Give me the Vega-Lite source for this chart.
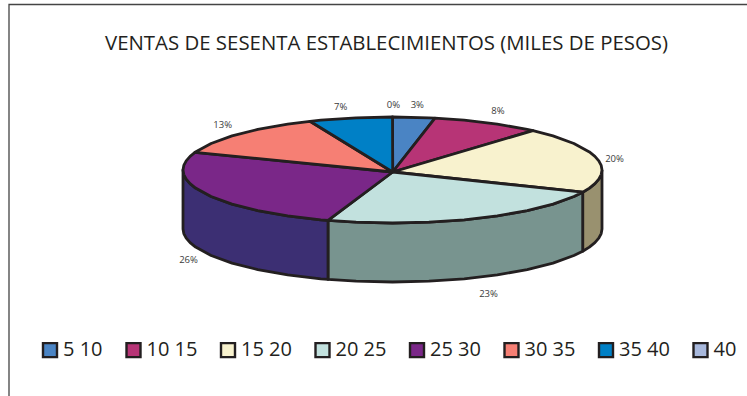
{
"$schema":"https://vega.github.io/schema/vega-lite/v6.json",
"width":747,"height":396,"padding":0,"autosize":"none","background":"white",
"title":{"text":"VENTAS DE SESENTA ESTABLECIMIENTOS (MILES DE PESOS)","font":"Open Sans","fontSize":20.4,"fontWeight":"normal","color":"#231f20","anchor":"start","frame":"group","offset":-54,"dx":105},
"datasets":{
"marco":[{"o":0,"x":-383.5,"y":-226},{"o":1,"x":-383.5,"y":165.5},{"o":2,"x":354.5,"y":165.5}],
"lados":[
{"r":"15 20","o":0,"x":209.5,"y":0},{"r":"15 20","o":0.5,"x":208.7,"y":-4.6},{"r":"15 20","o":1,"x":206.3,"y":-9.2},{"r":"15 20","o":1.5,"x":202.4,"y":-13.7},{"r":"15 20","o":2,"x":196.9,"y":-18.1},{"r":"15 20","o":3,"x":190.2,"y":-22.2},{"r":"15 20","o":4,"x":190.2,"y":-81.2},{"r":"15 20","o":5,"x":196.9,"y":-77.1},{"r":"15 20","o":5.5,"x":202.4,"y":-72.7},{"r":"15 20","o":6,"x":206.3,"y":-68.2},{"r":"15 20","o":6.5,"x":208.7,"y":-63.6},{"r":"15 20","o":7,"x":209.5,"y":-59},{"r":"15 20","o":8,"x":209.5,"y":0},
{"r":"20 25","o":0,"x":190.2,"y":-22.2},{"r":"20 25","o":1,"x":181.4,"y":-26.5},{"r":"20 25","o":2,"x":160.5,"y":-34.1},{"r":"20 25","o":3,"x":134.7,"y":-40.6},{"r":"20 25","o":4,"x":104.8,"y":-45.9},{"r":"20 25","o":5,"x":71.7,"y":-49.8},{"r":"20 25","o":6,"x":36.4,"y":-52.2},{"r":"20 25","o":7,"x":0,"y":-53},{"r":"20 25","o":8,"x":-36.4,"y":-52.2},{"r":"20 25","o":9,"x":-64.5,"y":-50.4},{"r":"20 25","o":10,"x":-64.5,"y":-109.4},{"r":"20 25","o":11,"x":-36.4,"y":-111.2},{"r":"20 25","o":12,"x":0,"y":-112},{"r":"20 25","o":13,"x":36.4,"y":-111.2},{"r":"20 25","o":14,"x":71.7,"y":-108.8},{"r":"20 25","o":15,"x":104.8,"y":-104.9},{"r":"20 25","o":16,"x":134.7,"y":-99.6},{"r":"20 25","o":17,"x":160.5,"y":-93.1},{"r":"20 25","o":18,"x":181.4,"y":-85.5},{"r":"20 25","o":19,"x":190.2,"y":-81.2},{"r":"20 25","o":20,"x":190.2,"y":-22.2},
{"r":"25 30","o":0,"x":-64.5,"y":-50.4},{"r":"25 30","o":1,"x":-71.7,"y":-49.8},{"r":"25 30","o":2,"x":-104.8,"y":-45.9},{"r":"25 30","o":3,"x":-134.7,"y":-40.6},{"r":"25 30","o":4,"x":-160.5,"y":-34.1},{"r":"25 30","o":5,"x":-181.4,"y":-26.5},{"r":"25 30","o":6,"x":-196.9,"y":-18.1},{"r":"25 30","o":6.5,"x":-202.4,"y":-13.7},{"r":"25 30","o":7,"x":-206.3,"y":-9.2},{"r":"25 30","o":7.5,"x":-208.7,"y":-4.6},{"r":"25 30","o":8,"x":-209.5,"y":0},{"r":"25 30","o":9,"x":-209.5,"y":-59},{"r":"25 30","o":9.5,"x":-208.7,"y":-63.6},{"r":"25 30","o":10,"x":-206.3,"y":-68.2},{"r":"25 30","o":10.5,"x":-202.4,"y":-72.7},{"r":"25 30","o":11,"x":-196.9,"y":-77.1},{"r":"25 30","o":12,"x":-181.4,"y":-85.5},{"r":"25 30","o":13,"x":-160.5,"y":-93.1},{"r":"25 30","o":14,"x":-134.7,"y":-99.6},{"r":"25 30","o":15,"x":-104.8,"y":-104.9},{"r":"25 30","o":16,"x":-71.7,"y":-108.8},{"r":"25 30","o":17,"x":-64.5,"y":-109.4},{"r":"25 30","o":18,"x":-64.5,"y":-50.4}
],
"cara":[
{"r":"5 10","o":0,"x":0.2,"y":-2},{"r":"5 10","o":1,"x":0,"y":53},{"r":"5 10","o":2,"x":36.4,"y":52.2},{"r":"5 10","o":3,"x":42.5,"y":51.9},{"r":"5 10","o":4,"x":0.2,"y":-2},
{"r":"10 15","o":0,"x":0.2,"y":-2},{"r":"10 15","o":1,"x":42.5,"y":51.9},{"r":"10 15","o":2,"x":71.7,"y":49.8},{"r":"10 15","o":3,"x":104.8,"y":45.9},{"r":"10 15","o":4,"x":134.7,"y":40.6},{"r":"10 15","o":5,"x":140.5,"y":39.4},{"r":"10 15","o":6,"x":0.2,"y":-2},
{"r":"15 20","o":0,"x":0.2,"y":-2},{"r":"15 20","o":1,"x":140.5,"y":39.4},{"r":"15 20","o":2,"x":160.5,"y":34.1},{"r":"15 20","o":3,"x":181.4,"y":26.5},{"r":"15 20","o":4,"x":196.9,"y":18.1},{"r":"15 20","o":4.5,"x":202.4,"y":13.7},{"r":"15 20","o":5,"x":206.3,"y":9.2},{"r":"15 20","o":5.5,"x":208.7,"y":4.6},{"r":"15 20","o":6,"x":209.5,"y":0},{"r":"15 20","o":6.5,"x":208.7,"y":-4.6},{"r":"15 20","o":7,"x":206.3,"y":-9.2},{"r":"15 20","o":7.5,"x":202.4,"y":-13.7},{"r":"15 20","o":8,"x":196.9,"y":-18.1},{"r":"15 20","o":9,"x":190.2,"y":-22.2},{"r":"15 20","o":10,"x":0.2,"y":-2},
{"r":"20 25","o":0,"x":0.2,"y":-2},{"r":"20 25","o":1,"x":190.2,"y":-22.2},{"r":"20 25","o":2,"x":181.4,"y":-26.5},{"r":"20 25","o":3,"x":160.5,"y":-34.1},{"r":"20 25","o":4,"x":134.7,"y":-40.6},{"r":"20 25","o":5,"x":104.8,"y":-45.9},{"r":"20 25","o":6,"x":71.7,"y":-49.8},{"r":"20 25","o":7,"x":36.4,"y":-52.2},{"r":"20 25","o":8,"x":0,"y":-53},{"r":"20 25","o":9,"x":-36.4,"y":-52.2},{"r":"20 25","o":10,"x":-64.5,"y":-50.4},{"r":"20 25","o":11,"x":0.2,"y":-2},
{"r":"25 30","o":0,"x":0.2,"y":-2},{"r":"25 30","o":1,"x":-64.5,"y":-50.4},{"r":"25 30","o":2,"x":-71.7,"y":-49.8},{"r":"25 30","o":3,"x":-104.8,"y":-45.9},{"r":"25 30","o":4,"x":-134.7,"y":-40.6},{"r":"25 30","o":5,"x":-160.5,"y":-34.1},{"r":"25 30","o":6,"x":-181.4,"y":-26.5},{"r":"25 30","o":7,"x":-196.9,"y":-18.1},{"r":"25 30","o":7.5,"x":-202.4,"y":-13.7},{"r":"25 30","o":8,"x":-206.3,"y":-9.2},{"r":"25 30","o":8.5,"x":-208.7,"y":-4.6},{"r":"25 30","o":9,"x":-209.5,"y":0},{"r":"25 30","o":9.5,"x":-208.7,"y":4.6},{"r":"25 30","o":10,"x":-206.3,"y":9.2},{"r":"25 30","o":10.5,"x":-202.4,"y":13.7},{"r":"25 30","o":11,"x":-197.5,"y":17.7},{"r":"25 30","o":12,"x":0.2,"y":-2},
{"r":"30 35","o":0,"x":0.2,"y":-2},{"r":"30 35","o":1,"x":-197.5,"y":17.7},{"r":"30 35","o":2,"x":-181.4,"y":26.5},{"r":"30 35","o":3,"x":-160.5,"y":34.1},{"r":"30 35","o":4,"x":-134.7,"y":40.6},{"r":"30 35","o":5,"x":-104.8,"y":45.9},{"r":"30 35","o":6,"x":-82.5,"y":48.7},{"r":"30 35","o":7,"x":0.2,"y":-2},
{"r":"35 40","o":0,"x":0.2,"y":-2},{"r":"35 40","o":1,"x":-82.5,"y":48.7},{"r":"35 40","o":2,"x":-71.7,"y":49.8},{"r":"35 40","o":3,"x":-36.4,"y":52.2},{"r":"35 40","o":4,"x":0,"y":53},{"r":"35 40","o":5,"x":0.2,"y":-2}
],
"rotulos":[
{"r":"40","p":"0%","x":1,"y":65.3},{"r":"5 10","p":"3%","x":24.8,"y":65.3},{"r":"35 40","p":"7%","x":-51.8,"y":63.3},{"r":"10 15","p":"8%","x":105.5,"y":59.3},{"r":"30 35","p":"13%","x":-169.8,"y":45.3},{"r":"15 20","p":"20%","x":222,"y":10.7},{"r":"20 25","p":"23%","x":96,"y":-124},{"r":"25 30","p":"26%","x":-204,"y":-90}
]},
"layer":[
{"data":{"name":"marco"},"mark":{"type":"line","stroke":"#444444","strokeWidth":1.3},
 "encoding":{"x":{"field":"x","type":"quantitative","scale":{"domain":[-392.5,354.5],"nice":false,"zero":false},"axis":null},"y":{"field":"y","type":"quantitative","scale":{"domain":[-226,170],"nice":false,"zero":false},"axis":null},"order":{"field":"o"}}},
{"data":{"name":"lados"},"mark":{"type":"line","stroke":"#231f20","strokeWidth":2.8,"strokeJoin":"round"},
 "encoding":{"x":{"field":"x","type":"quantitative"},"y":{"field":"y","type":"quantitative"},"order":{"field":"o"},
 "fill":{"field":"r","type":"nominal","scale":{"domain":["15 20","20 25","25 30"],"range":["#99916f","#78948f","#3c2f73"]},"legend":null}}},
{"data":{"name":"cara"},"mark":{"type":"line","stroke":"#231f20","strokeWidth":2.8,"strokeJoin":"round"},
 "encoding":{"x":{"field":"x","type":"quantitative"},"y":{"field":"y","type":"quantitative"},"order":{"field":"o"},
 "fill":{"field":"r","type":"nominal","scale":{"domain":["5 10","10 15","15 20","20 25","25 30","30 35","35 40","40"],"range":["#4a84c4","#b73476","#f8f2ce","#c2e1de","#7a2788","#f67f74","#0080c6","#a8b8dc"]},
 "legend":{"title":null,"orient":"none","legendX":40,"legendY":340,"direction":"horizontal","columns":8,"symbolType":"square","symbolSize":196,"symbolStrokeColor":"#231f20","symbolStrokeWidth":2.4,"labelFont":"Open Sans","labelFontSize":20,"labelColor":"#231f20","labelOffset":3,"columnPadding":18.5,"labelLimit":100}}}},
{"data":{"name":"rotulos"},"mark":{"type":"text","font":"Open Sans","fontSize":9.5,"color":"#3a3a3a"},
 "encoding":{"x":{"field":"x","type":"quantitative"},"y":{"field":"y","type":"quantitative"},"text":{"field":"p","type":"nominal"}}}
],
"resolve":{"scale":{"fill":"independent"}},
"config":{"view":{"stroke":null}}
}
